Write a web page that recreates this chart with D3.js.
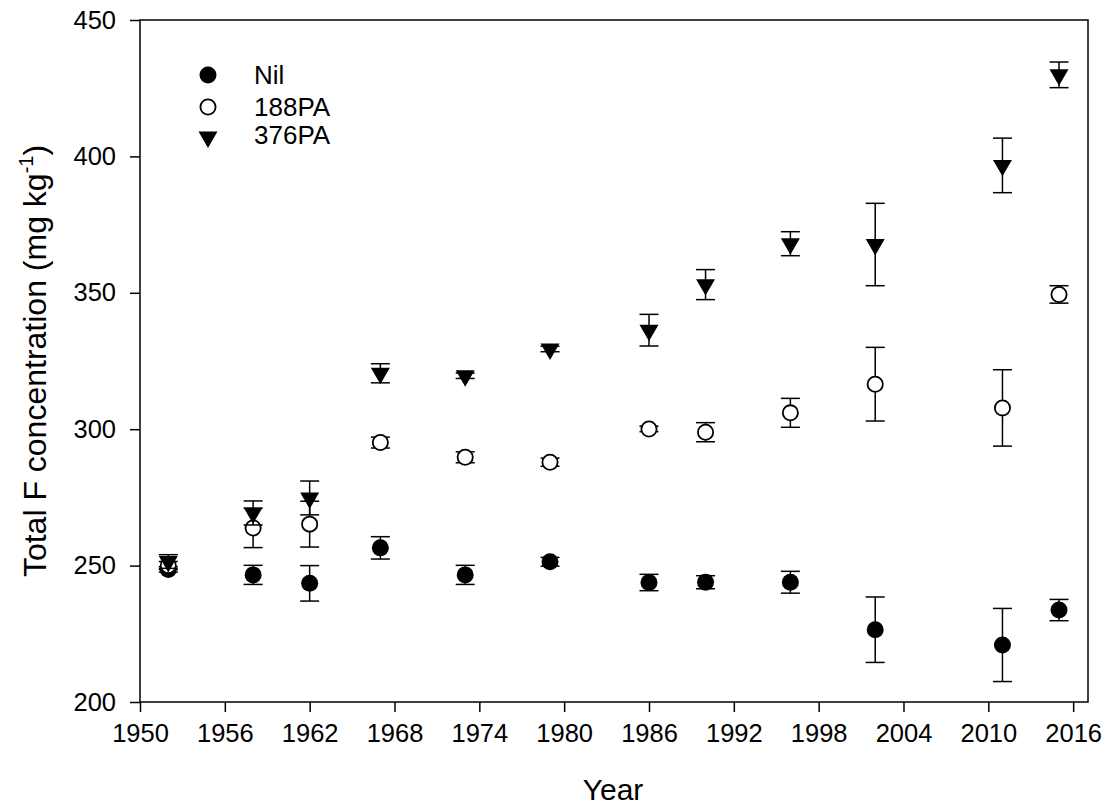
<!DOCTYPE html>
<html>
<head>
<meta charset="utf-8">
<script src="https://cdn.jsdelivr.net/npm/d3@7"></script>
<style>
  body { margin: 0; background: #fff; }
  text { font-family: Arial, "Liberation Sans", sans-serif; fill: #000; }
</style>
</head>
<body>
<div id="chart"></div>
<script>
// data
const years = [1952, 1958, 1962, 1967, 1973, 1979, 1986, 1990, 1996, 2002, 2011, 2015];
const nilMean = [248.6, 246.6, 243.5, 256.5, 246.6, 251.4, 243.8, 243.9, 243.9, 226.5, 220.9, 233.7];
const nilErr  = [1.0, 3.5, 6.5, 4.1, 3.5, 1.6, 3.0, 2.4, 4.0, 12.0, 13.4, 3.9];
const pa188Mean = [250.0, 263.8, 265.2, 295.1, 289.7, 287.9, 300.1, 298.9, 306.0, 316.5, 307.8, 349.4];
const pa188Err  = [1.5, 7.2, 8.4, 2.0, 2.0, 1.5, 1.0, 3.5, 5.3, 13.5, 14.0, 3.2];
const pa376Mean = [251.5, 269.3, 274.8, 320.5, 319.6, 329.4, 336.3, 353.0, 368.0, 367.7, 396.7, 429.9];
const pa376Err  = [2.5, 4.4, 6.2, 3.5, 1.0, 1.0, 5.8, 5.5, 4.4, 15.1, 10.0, 4.7];
const xTicks = [1950, 1956, 1962, 1968, 1974, 1980, 1986, 1992, 1998, 2004, 2010, 2016];
const yTicks = [200, 250, 300, 350, 400, 450];
const seriesNames = ["Nil", "188PA", "376PA"];

const series = [
  {name: seriesNames[0], mean: nilMean, err: nilErr, shape: "filled"},
  {name: seriesNames[1], mean: pa188Mean, err: pa188Err, shape: "open"},
  {name: seriesNames[2], mean: pa376Mean, err: pa376Err, shape: "tri"}
];

const W = 1110, H = 809;
const margin = {top: 20, right: 22, bottom: 107, left: 140};
const width = W - margin.left - margin.right,
      height = H - margin.top - margin.bottom;

const svg = d3.select("#chart")
  .append("svg")
  .attr("width", W)
  .attr("height", H)
  .append("g")
  .attr("transform", `translate(${margin.left}, ${margin.top})`);

const x = d3.scaleLinear().domain([1950, 2017.05]).range([0, width]);
const y = d3.scaleLinear().domain([200, 450]).range([height, 0]);

// frame
svg.append("rect")
  .attr("width", width).attr("height", height)
  .attr("fill", "none").attr("stroke", "#000").attr("stroke-width", 1.5);

const xAxis = svg.append("g")
  .attr("transform", `translate(0, ${height})`)
  .call(d3.axisBottom(x).tickValues(xTicks).tickFormat(d3.format("d")).tickSize(10).tickPadding(12));
const yAxis = svg.append("g")
  .call(d3.axisLeft(y).tickValues(yTicks).tickSize(10).tickPadding(14));
[xAxis, yAxis].forEach(a => {
  a.select(".domain").remove();
  a.selectAll("line").attr("stroke", "#000").attr("stroke-width", 1.5);
  a.selectAll("text").style("font-size", "25.5px").style("font-family", "Arial, 'Liberation Sans', sans-serif");
});

// axis titles
svg.append("text")
  .attr("x", width / 2 - 1).attr("y", height + 98)
  .attr("text-anchor", "middle")
  .style("font-size", "30px")
  .text("Year");

const yt = svg.append("text")
  .attr("transform", `translate(${46 - margin.left}, ${height / 2}) rotate(-90)`)
  .attr("text-anchor", "middle")
  .style("font-size", "32px");
yt.append("tspan").text("Total F concentration (mg kg");
yt.append("tspan").attr("dy", -13).style("font-size", "20px").text("-1");
yt.append("tspan").attr("dy", 13).text(")");

const triangle = d3.symbol().type(d3.symbolTriangle).size(156);
const capW = 9.5;

function drawMarker(sel, shape) {
  if (shape === "tri") {
    sel.append("path").attr("d", triangle()).attr("transform", "rotate(180)").attr("fill", "#000");
  } else if (shape === "open") {
    sel.append("circle").attr("r", 7.6).attr("fill", "#fff").attr("stroke", "#000").attr("stroke-width", 1.8);
  } else {
    sel.append("circle").attr("r", 8.5).attr("fill", "#000");
  }
}

series.forEach(s => {
  const pts = years.map((yr, i) => ({year: yr, mean: s.mean[i], err: s.err[i]}));
  const g = svg.append("g");
  // error bars
  const eb = g.selectAll(".eb").data(pts).join("g").attr("class", "eb")
    .attr("stroke", "#000").attr("stroke-width", 1.5);
  eb.append("line")
    .attr("x1", d => x(d.year)).attr("x2", d => x(d.year))
    .attr("y1", d => y(d.mean + d.err)).attr("y2", d => y(d.mean - d.err));
  eb.append("line")
    .attr("x1", d => x(d.year) - capW).attr("x2", d => x(d.year) + capW)
    .attr("y1", d => y(d.mean + d.err)).attr("y2", d => y(d.mean + d.err));
  eb.append("line")
    .attr("x1", d => x(d.year) - capW).attr("x2", d => x(d.year) + capW)
    .attr("y1", d => y(d.mean - d.err)).attr("y2", d => y(d.mean - d.err));
  // symbols
  g.selectAll(".pt").data(pts).join("g").attr("class", "pt")
    .attr("transform", d => `translate(${x(d.year)}, ${y(d.mean)})`)
    .each(function() { drawMarker(d3.select(this), s.shape); });
});

// legend
const legend = svg.append("g").attr("transform", "translate(68, 55)");
series.forEach((s, i) => {
  const row = legend.append("g").attr("transform", `translate(0, ${[0, 32, 60][i]})`);
  drawMarker(row.append("g").attr("transform", i === 2 ? "translate(0,2)" : null), s.shape);
  row.append("text").attr("x", 46).attr("y", 9).style("font-size", "26px").text(s.name);
});
</script>
</body>
</html>
